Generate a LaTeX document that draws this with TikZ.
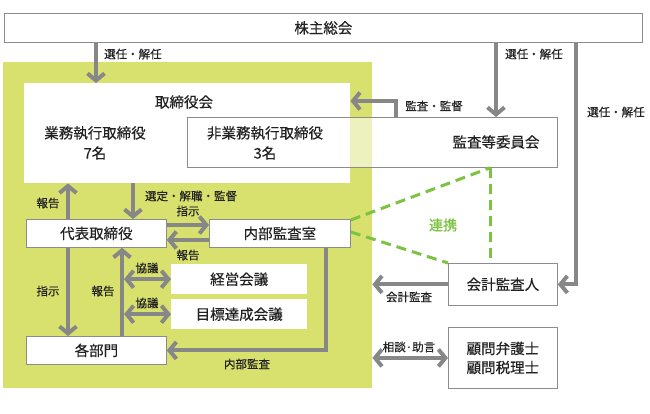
\documentclass[tikz,border=0pt]{standalone}
\usepackage{fontspec}
\setmainfont{Noto Sans CJK JP}[FakeBold=0.4]
\newfontfamily\boldjp{Noto Sans CJK JP}[FakeBold=1.2]
\usetikzlibrary{arrows.meta}
\definecolor{lime}{HTML}{D9E16E}
\definecolor{arrgray}{HTML}{878787}
\definecolor{bdgray}{HTML}{8C8C8C}
\definecolor{txgray}{HTML}{222222}
\definecolor{linkgreen}{HTML}{7DC242}
\begin{document}
\begin{tikzpicture}[x=1pt,y=-1pt,
  box/.style={draw=bdgray,line width=0.8pt,fill=white,inner sep=0pt,anchor=north west,text=txgray,font=\fontsize{14.5}{19}\selectfont},
  plain/.style={fill=white,inner sep=0pt,anchor=north west,text=txgray,font=\fontsize{14.5}{19}\selectfont},
  big/.style={text=txgray,font=\fontsize{14.5}{19}\selectfont,inner sep=0pt},
  lbl/.style={text=txgray,font=\fontsize{11.5}{13}\selectfont,inner sep=0pt},
  arw/.style={draw=arrgray,line width=4pt,-{Straight Barb[length=7pt,width=17pt]}},
  darw/.style={draw=arrgray,line width=4pt,{Straight Barb[length=7pt,width=17pt]}-{Straight Barb[length=7pt,width=17pt]}},
  link/.style={draw=linkgreen,line width=3pt,dash pattern=on 10pt off 6pt}]
\useasboundingbox (0,0) rectangle (650,413);
\fill[white] (0,0) rectangle (650,413);
% regions
\node[fill=lime,inner sep=0pt,anchor=north west,minimum width=369pt,minimum height=326pt] (grp) at (3,62) {};
\node[plain,minimum width=326pt,minimum height=100pt] (bod) at (24,83) {};
\node[box,fill opacity=0.55,minimum width=370pt,minimum height=50pt] (aud) at (187,117) {};
% boxes
\node[box,minimum width=638pt,minimum height=29pt] (sh) at (4,13) {株主総会};
\node[box,minimum width=140pt,minimum height=28pt] (rep) at (26,219) {代表取締役};
\node[box,minimum width=141pt,minimum height=28pt] (ia) at (209,219) {内部監査室};
\node[plain,minimum width=136pt,minimum height=30pt] (mg) at (171,264) {経営会議};
\node[plain,minimum width=136pt,minimum height=30pt] (tg) at (171,299) {目標達成会議};
\node[box,minimum width=140pt,minimum height=28pt] (div) at (26,336) {各部門};
\node[box,minimum width=109pt,minimum height=42pt] (kai) at (448,263) {会計監査人};
\node[box,minimum width=109pt,minimum height=61pt,align=center] (adv) at (448,327) {顧問弁護士\\顧問税理士};
% texts in board
\node[big] (t1) at (184,102) {取締役会};
\node[big] (t2) at (95,133) {業務執行取締役};
\node[big] (t3) at (95,153) {7名};
\node[big] (t4) at (265,133) {非業務執行取締役};
\node[big] (t5) at (265,153) {3名};
\node[big] (t6) at (496,142) {監査等委員会};
% dashed links
\draw[link] ([yshift=-1pt]ia.north east) -- (490,0 |- aud.south);
\draw[link] ([yshift=-13pt]ia.north east) -- (kai.north west);
\draw[link] (490,0 |- aud.south) -- (490,0 |- kai.north);
\node[text=linkgreen,font=\fontsize{14}{16}\selectfont\boldjp,inner sep=0pt] (l16) at (443,225) {連携};
% arrows
\draw[arw] (96,0 |- sh.south) -- (96,0 |- bod.north);
\draw[arw] (496,0 |- sh.south) -- (496,0 |- aud.north);
\draw[arw] (576,0 |- sh.south) |- (kai.east);
\draw[arw] (396,0 |- aud.north) -- (396,101) -- (bod.east |- 0,101);
\draw[arw] (kai.west) -- (grp.east |- kai.west);
\draw[darw] (grp.east |- adv.west) -- (adv.west);
\draw[arw] (68,0 |- rep.north) -- (68,0 |- bod.south);
\draw[arw] (133,0 |- bod.south) -- (133,0 |- rep.north);
\draw[arw] (rep.east |- 0,225) -- (ia.west |- 0,225);
\draw[arw] (ia.west |- 0,240) -- (rep.east |- 0,240);
\draw[arw] (122,0 |- div.north) -- (122,0 |- rep.south);
\draw[darw] (124,0 |- mg.west) -- (mg.west);
\draw[darw] (124,0 |- tg.west) -- (tg.west);
\draw[arw] (68,0 |- rep.south) -- (68,0 |- div.north);
\draw[arw] (326,0 |- ia.south) |- (div.east);
% labels
\node[lbl,anchor=west] (l1) at (104,54) {選任・解任};
\node[lbl,anchor=west] (l2) at (505,54) {選任・解任};
\node[lbl,anchor=west] (l3) at (587,112) {選任・解任};
\node[lbl] (l4) at (434,106) {監査・監督};
\node[lbl] (l5) at (48,203) {報告};
\node[lbl] (l6) at (191,196) {選定・解職・監督};
\node[lbl] (l7) at (188,211) {指示};
\node[lbl] (l8) at (188,255) {報告};
\node[lbl] (l9) at (147,268) {協議};
\node[lbl] (l10) at (147,303) {協議};
\node[lbl] (l11) at (48,291) {指示};
\node[lbl] (l12) at (103,291) {報告};
\node[lbl] (l13) at (247,364) {内部監査};
\node[lbl] (l14) at (409,297) {会計監査};
\node[lbl] (l15) at (409,347) {相談·助言};
\end{tikzpicture}
\end{document}
